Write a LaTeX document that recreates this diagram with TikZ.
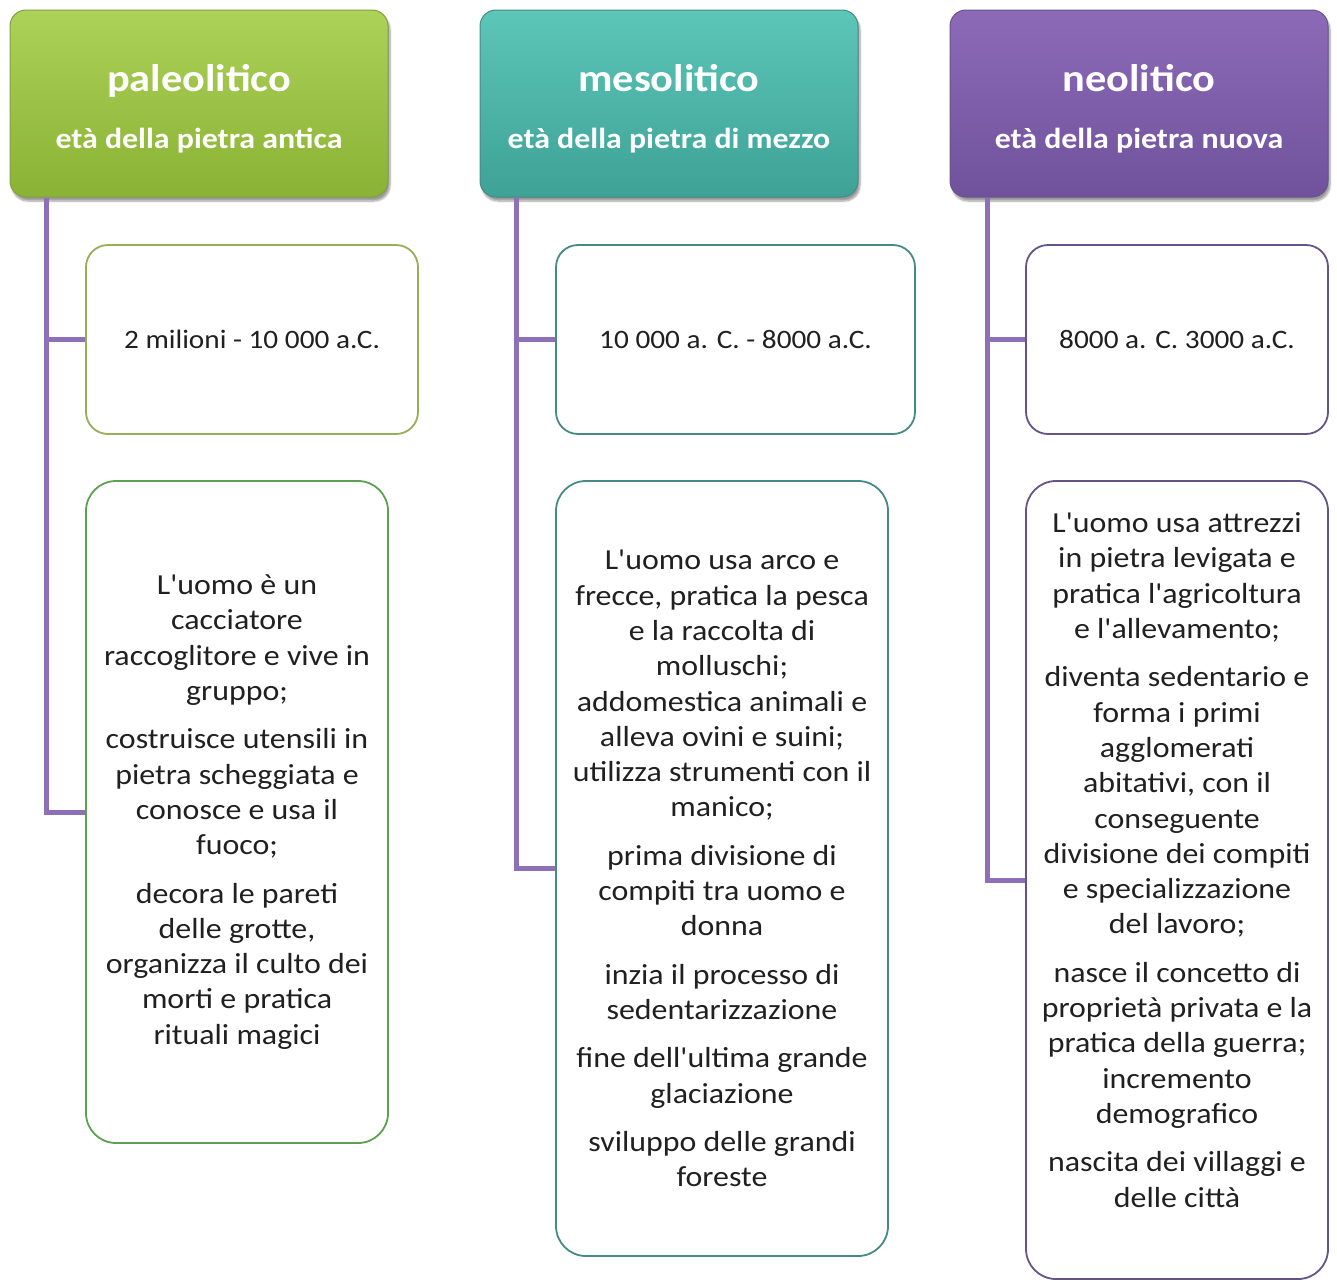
\documentclass[tikz,border=0pt]{standalone}
\usepackage{fontspec}
\setmainfont{Carlito}[Ligatures=TeXOff, FakeStretch=1.1]
\usetikzlibrary{shadows.blur}

\definecolor{paleoTop}{RGB}{172,210,88}
\definecolor{paleoBot}{RGB}{138,178,52}
\definecolor{paleoLine}{RGB}{128,160,68}
\definecolor{paleoDateLine}{RGB}{150,174,86}
\definecolor{paleoInfoLine}{RGB}{92,160,82}
\definecolor{mesoTop}{RGB}{92,198,184}
\definecolor{mesoBot}{RGB}{62,162,150}
\definecolor{mesoLine}{RGB}{70,138,134}
\definecolor{neoTop}{RGB}{140,106,184}
\definecolor{neoBot}{RGB}{112,82,156}
\definecolor{neoLine}{RGB}{100,84,136}
\definecolor{branchPurple}{RGB}{142,112,182}
\definecolor{bodyText}{RGB}{32,32,32}

\begin{document}
\begin{tikzpicture}[x=1pt,y=1pt,yscale=-1,xscale=1,
  header/.style={rounded corners=16pt, minimum width=378pt, minimum height=187pt,
    inner sep=0pt, line width=1pt, text=white, align=center,
    text height=89pt, text depth=0pt,
    font=\fontsize{29}{57}\selectfont\bfseries,
    blur shadow={shadow xshift=2pt, shadow yshift=-4pt, shadow blur steps=6}},
  datebox/.style={draw, line width=1.8pt, rounded corners=22pt, fill=white,
    minimum height=189pt, inner sep=0pt, align=center, text=bodyText,
    font=\fontsize{26.6}{35.3}\selectfont},
  infobox/.style={datebox, rounded corners=30pt, font=\fontsize{29}{35.3}\selectfont},
  branch/.style={draw=branchPurple, line width=5pt}
]
\useasboundingbox (0,0) rectangle (1337,1282);

% Headers
\node[header, top color=paleoTop, bottom color=paleoBot, draw=paleoLine] (paleo) at (199,103.5)
  {{\fontsize{38.5}{57}\selectfont paleolitico}\\età della pietra antica};
\node[header, top color=mesoTop, bottom color=mesoBot, draw=mesoLine] (meso) at (669,103.5)
  {{\fontsize{38.5}{57}\selectfont mesolitico}\\età della pietra di mezzo};
\node[header, top color=neoTop, bottom color=neoBot, draw=neoLine] (neo) at (1139,103.5)
  {{\fontsize{38.5}{57}\selectfont neolitico}\\età della pietra nuova};

% Date boxes
\node[datebox, draw=paleoDateLine, minimum width=332pt] (paleoDate) at (252,339.5) {2 milioni - 10 000 a.C.};
\node[datebox, draw=mesoLine, minimum width=359pt] (mesoDate) at (735.5,339.5) {10 000 a. C. - 8000 a.C.};
\node[datebox, draw=neoLine, minimum width=302pt] (neoDate) at (1177,339.5) {8000 a. C. 3000 a.C.};

% Info boxes
\node[infobox, draw=paleoInfoLine, minimum width=302pt, minimum height=662pt] (paleoInfo) at (237,812)
  {L'uomo è un\\cacciatore\\raccoglitore e vive in\\gruppo;\\[13pt]
   costruisce utensili in\\pietra scheggiata e\\conosce e usa il\\fuoco;\\[13pt]
   decora le pareti\\delle grotte,\\organizza il culto dei\\morti e pratica\\rituali magici};
\node[infobox, draw=mesoLine, minimum width=332pt, minimum height=775pt] (mesoInfo) at (722,868.5)
  {L'uomo usa arco e\\frecce, pratica la pesca\\e la raccolta di\\molluschi;\\addomestica animali e\\alleva ovini e suini;\\utilizza strumenti con il\\manico;\\[13pt]
   prima divisione di\\compiti tra uomo e\\donna\\[13pt]
   inzia il processo di\\sedentarizzazione\\[13pt]
   fine dell'ultima grande\\glaciazione\\[13pt]
   sviluppo delle grandi\\foreste};
\node[infobox, draw=neoLine, minimum width=302pt, minimum height=798pt] (neoInfo) at (1177,880)
  {L'uomo usa attrezzi\\in pietra levigata e\\pratica l'agricoltura\\e l'allevamento;\\[13pt]
   diventa sedentario e\\forma i primi\\agglomerati\\abitativi, con il\\conseguente\\divisione dei compiti\\e specializzazione\\del lavoro;\\[13pt]
   nasce il concetto di\\proprietà privata e la\\pratica della guerra;\\incremento\\demografico\\[13pt]
   nascita dei villaggi e\\delle città\\[5pt]\mbox{}};

% Connectors
\coordinate (paleoTrunk) at ([xshift=37pt]paleo.south west);
\coordinate (mesoTrunk) at ([xshift=37pt]meso.south west);
\coordinate (neoTrunk) at ([xshift=38pt]neo.south west);
\draw[branch] (paleoTrunk) |- (paleoDate.west);
\draw[branch] (paleoTrunk) |- (paleoInfo.west);
\draw[branch] (mesoTrunk) |- (mesoDate.west);
\draw[branch] (mesoTrunk) |- (mesoInfo.west);
\draw[branch] (neoTrunk) |- (neoDate.west);
\draw[branch] (neoTrunk) |- (neoInfo.west);

\end{tikzpicture}
\end{document}
